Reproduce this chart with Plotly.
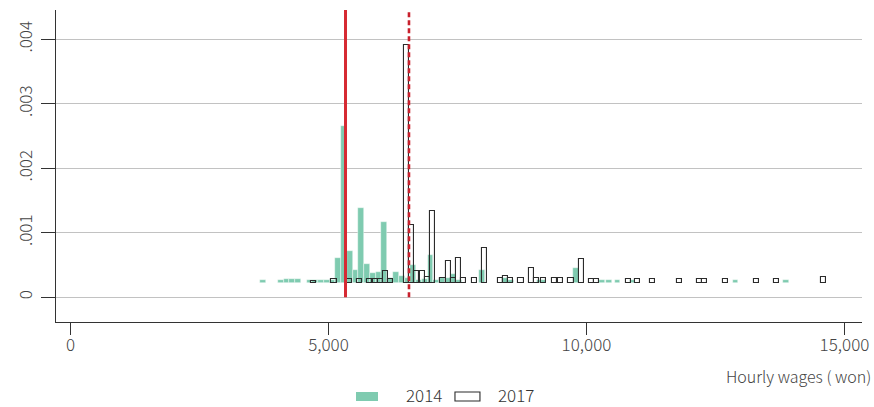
import plotly.graph_objects as go

# ---- data ----
wage_2014 = [3738, 4073, 4185, 4297, 4408, 4632, 4743, 4855, 4967, 5078,
             5190, 5302, 5413, 5525, 5637, 5748, 5860, 5972, 6083, 6195,
             6307, 6418, 6530, 6642, 6753, 6865, 6977, 7088, 7200, 7312,
             7423, 7535, 7982, 8428, 8540, 9098, 9166, 9800, 10304, 10430,
             10600, 10891, 12889, 13866]
dens_2014 = [0.00027, 0.00027, 0.00028, 0.00028, 0.00028, 0.00027, 0.00027, 0.00027, 0.00027, 0.00027,
             0.00061, 0.00265, 0.00072, 0.00043, 0.00138, 0.00051, 0.00038, 0.00039, 0.00116, 0.00030,
             0.00039, 0.00033, 0.00030, 0.00050, 0.00027, 0.00028, 0.00066, 0.00027, 0.00030, 0.00030,
             0.00036, 0.00027, 0.00042, 0.00030, 0.00027, 0.00027, 0.00027, 0.00045, 0.00027, 0.00027,
             0.00027, 0.00027, 0.00027, 0.00027]

wage_2017 = [4709, 5107, 5399, 5606, 5802, 5905, 6006, 6108, 6209, 6511,
             6612, 6713, 6815, 6916, 7016, 7218, 7319, 7420, 7521, 7622,
             7824, 8026, 8329, 8430, 8531, 8729, 8935, 9036, 9166, 9390,
             9487, 9700, 9910, 10098, 10199, 10817, 10992, 11283, 11798, 12186,
             12289, 12691, 13293, 13681, 14590]
dens_2017 = [0.00026, 0.00028, 0.00028, 0.00028, 0.00028, 0.00028, 0.00028, 0.00040, 0.00028, 0.00391,
             0.00112, 0.00040, 0.00040, 0.00031, 0.00134, 0.00030, 0.00057, 0.00030, 0.00061, 0.00030,
             0.00030, 0.00076, 0.00030, 0.00033, 0.00030, 0.00030, 0.00045, 0.00030, 0.00030, 0.00030,
             0.00030, 0.00030, 0.00059, 0.00028, 0.00028, 0.00028, 0.00028, 0.00028, 0.00028, 0.00028,
             0.00028, 0.00028, 0.00028, 0.00028, 0.00031]

min_wage_line_2014 = 5330
min_wage_line_2017 = 6560

x_tick_vals = [0, 5000, 10000, 15000]
x_tick_text = ["0", "5,000", "10,000", "15,000"]
y_tick_vals = [0, 0.001, 0.002, 0.003, 0.004]
y_tick_text = ["0", ".001", ".002", ".003", ".004"]
series_names = ["2014", "2017"]

# ---- style ----
BASE = 0.00022
BIN_W_2014 = 112
BIN_W_2017 = 101
TEAL = "#7fcbb0"
FONT = "Noto Sans CJK KR"

fig = go.Figure()
fig.add_trace(go.Bar(
    x=wage_2014, y=[d - BASE for d in dens_2014], base=BASE,
    width=BIN_W_2014, name=series_names[0], showlegend=False,
    marker=dict(color=TEAL, line=dict(color="rgba(255,255,255,0.7)", width=0.6)),
))
fig.add_trace(go.Bar(
    x=wage_2017, y=[d - BASE for d in dens_2017], base=BASE,
    width=BIN_W_2017, name=series_names[1], showlegend=False,
    marker=dict(color="rgba(255,255,255,0)", line=dict(color="#2b2b2b", width=1.1)),
))

fig.add_shape(type="line", xref="x", yref="y", x0=min_wage_line_2014, x1=min_wage_line_2014,
              y0=0, y1=0.00452, line=dict(color="#d62a33", width=3))
fig.add_shape(type="line", xref="x", yref="y", x0=min_wage_line_2017, x1=min_wage_line_2017,
              y0=0, y1=0.00452, line=dict(color="#c8202c", width=2.6, dash="5px,3px"))

# legend drawn as swatches + text below the plot
fig.add_shape(type="rect", xref="paper", yref="paper", x0=0.3722, x1=0.3995, y0=-0.2532, y1=-0.2244,
              fillcolor=TEAL, line=dict(width=0))
fig.add_shape(type="rect", xref="paper", yref="paper", x0=0.495, x1=0.526, y0=-0.2532, y1=-0.2244,
              fillcolor="white", line=dict(color="#2b2b2b", width=1.1))
fig.add_annotation(text=series_names[0], xref="paper", yref="paper", x=0.433, y=-0.232,
                   xanchor="left", yanchor="middle", showarrow=False, borderpad=0,
                   font=dict(size=17, color="#333333", weight=300))
fig.add_annotation(text=series_names[1], xref="paper", yref="paper", x=0.547, y=-0.232,
                   xanchor="left", yanchor="middle", showarrow=False, borderpad=0,
                   font=dict(size=17, color="#333333", weight=300))

fig.update_layout(
    width=874, height=407,
    margin=dict(l=56, r=12, t=10, b=85),
    plot_bgcolor="white", paper_bgcolor="white",
    barmode="overlay", bargap=0,
    font=dict(family=FONT, color="#444444", size=15, weight=300),
    showlegend=False,
    xaxis=dict(
        range=[-281, 15340], tickmode="array", tickvals=x_tick_vals, ticktext=x_tick_text,
        showgrid=False, zeroline=False, showline=True, linecolor="#333333", linewidth=1.3,
        ticks="outside", ticklen=12, tickwidth=1.3, tickcolor="#333333",
        tickfont=dict(size=17, color="#444444", weight=300), automargin=False,
        ticklabelstandoff=-5,
    ),
    yaxis=dict(
        range=[-0.000383, 0.004454], tickmode="array", tickvals=y_tick_vals, ticktext=y_tick_text,
        showgrid=True, gridcolor="#c2c2c2", gridwidth=1.4, zeroline=False,
        showline=True, linecolor="#333333", linewidth=1.3,
        ticks="outside", ticklen=14, tickwidth=1.3, tickcolor="#333333",
        tickangle=-90, tickfont=dict(size=17, color="#444444", weight=300), automargin=False,
        ticklabelstandoff=2,
    ),
)
fig.add_annotation(text="Hourly wages ( won)", xref="paper", yref="paper",
                   x=1.0, y=-0.173, xanchor="right", yanchor="middle", showarrow=False,
                   font=dict(size=16, color="#444444", weight=300), xshift=11)

fig.write_html("out.html", config={"displayModeBar": False},
               post_script="document.body.style.margin='0px';document.body.style.overflow='hidden';")
